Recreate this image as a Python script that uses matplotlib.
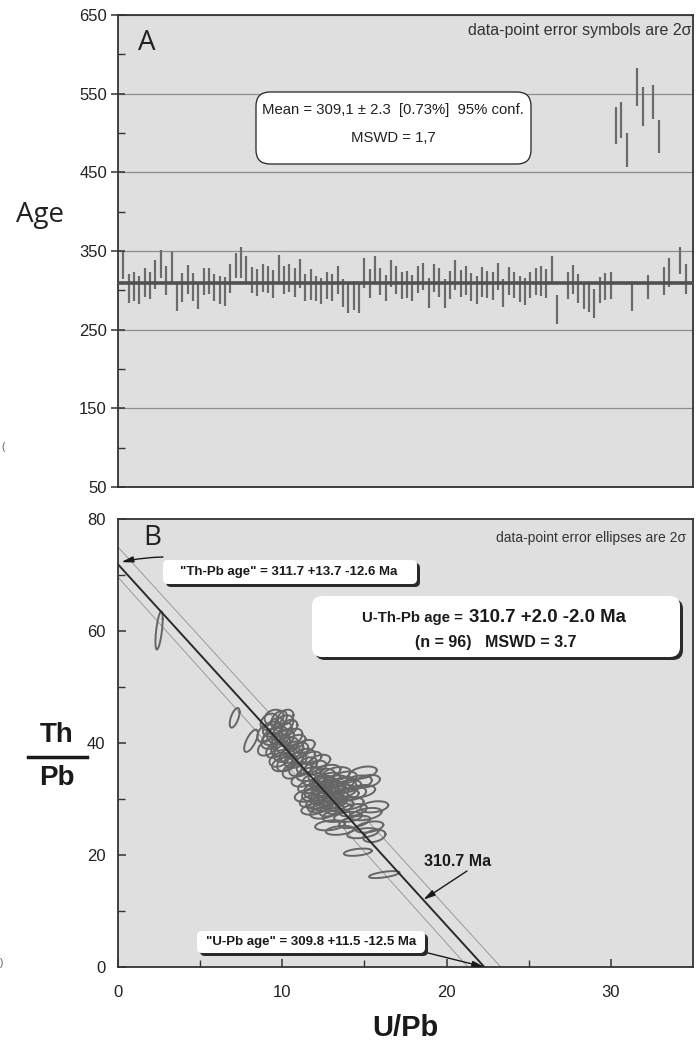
import numpy as np
import matplotlib
matplotlib.use('Agg')
import matplotlib.pyplot as plt
from matplotlib.patches import FancyBboxPatch

plt.rcParams['font.family'] = ['Liberation Sans', 'DejaVu Sans']

# ---- panel A: single analysis ages (Ma) with 2 sigma errors, nan = not shown
nan = np.nan
ages = [332.0, 301.9, 305.3, 300.2, 310.0, 305.9, 320.1, 333.5, 312.5, 328.6,
        292.6, 304.0, 313.8, 304.2, 293.4, 311.4, 311.8, 303.8, 300.2, 298.5,
        314.6, 331.1, 335.3, 326.5, 313.1, 310.0, 315.7, 314.2, 307.8, 326.9,
        312.9, 315.9, 310.0, 321.0, 303.4, 307.2, 302.5, 298.9, 306.4, 303.6,
        312.9, 296.8, 290.3, 293.7, 289.8, 322.5, 308.5, 325.6, 311.0, 303.0,
        321.2, 313.1, 306.4, 307.2, 303.0, 313.6, 317.4, 296.2, 315.4, 310.0,
        296.0, 307.0, 319.5, 308.9, 312.7, 304.6, 300.4, 310.6, 307.4, 305.3,
        317.4, 296.8, 312.0, 306.3, 302.1, 298.3, 306.8, 311.0, 312.3, 308.5,
        326.5, 275.4, nan, 306.4, 313.6, 302.0, 293.6, 289.8, 283.2, 300.0,
        304.7, 306.1, 509.7, 516.6, 478.4, 290.7, 558.7, 533.5, 304.0, 539.2,
        495.4, 311.6, 322.2, nan, 337.9, 314.0]
errs = [17.0, 18.5, 18.5, 18.0, 18.0, 17.0, 18.4, 18.3, 18.5, 19.7,
        18.5, 18.4, 18.5, 17.4, 17.6, 17.4, 17.0, 17.0, 18.0, 18.0,
        18.4, 15.9, 19.3, 17.6, 16.9, 17.2, 17.4, 17.2, 18.0, 18.0,
        18.0, 17.6, 18.0, 18.5, 17.0, 19.5, 16.1, 16.3, 17.4, 17.2,
        18.0, 17.6, 18.7, 18.7, 19.1, 19.0, 18.7, 18.0, 17.0, 16.6,
        17.4, 18.2, 17.4, 17.4, 16.6, 17.4, 17.0, 19.0, 18.0, 18.0,
        18.0, 18.0, 19.0, 16.9, 18.7, 17.8, 17.8, 18.6, 17.6, 17.5,
        17.0, 17.6, 18.0, 16.5, 16.5, 17.0, 17.0, 17.0, 19.0, 18.7,
        17.6, 18.7, nan, 17.4, 18.7, 18.7, 17.4, 17.8, 18.0, 16.6,
        17.0, 17.6, 23.7, 23.3, 21.2, 17.0, 24.4, 24.6, 15.5, 21.8,
        21.2, 17.6, 18.4, nan, 17.6, 19.0]
mean_age = 309.1

# ---- panel B: error ellipses (U/Pb, Th/Pb, 2 sigma half widths, correlation)
ell_x = [9.2, 9.5, 9.8, 10.1, 9.0, 9.4, 9.7, 10.0, 10.4, 10.6,
         9.3, 9.9, 10.3, 10.8, 9.6, 10.1, 10.5, 11.0, 11.3, 9.8,
         10.3, 10.8, 11.5, 11.1, 10.6, 11.8, 12.0, 8.1, 7.1, 2.5,
         12.0, 12.4, 12.8, 13.3, 13.8, 11.7, 12.2, 12.6, 13.0, 13.5,
         14.0, 14.6, 11.5, 12.0, 12.4, 12.9, 13.3, 13.8, 14.3, 12.2,
         12.7, 13.1, 13.6, 14.1, 11.9, 12.5, 13.0, 13.3, 11.3, 12.8,
         14.9, 15.2, 14.8, 12.9, 13.5, 14.4, 15.1, 15.3, 15.6, 14.9,
         14.6, 16.2, 15.6, 14.0, 9.6, 10.2, 9.4, 10.2, 9.9, 10.7,
         10.0, 11.4, 9.1, 12.3, 11.6, 12.1, 12.6, 13.0, 12.4, 13.2,
         12.9, 12.3, 13.7, 11.8, 13.4, 14.3]
ell_y = [43.8, 44.6, 44.2, 43.5, 41.8, 42.5, 41.5, 42.0, 42.8, 41.0,
         40.4, 40.0, 39.6, 40.2, 38.8, 38.2, 37.8, 38.6, 37.6, 37.0,
         36.4, 36.9, 36.0, 35.3, 35.0, 37.3, 35.6, 40.4, 44.5, 60.1,
         33.5, 34.2, 33.6, 34.5, 33.8, 32.2, 32.0, 32.6, 32.0, 32.6,
         32.3, 33.0, 30.6, 30.8, 30.2, 30.8, 30.2, 30.6, 31.0, 29.3,
         29.0, 29.5, 28.8, 29.2, 28.2, 27.6, 28.0, 27.0, 33.4, 35.0,
         34.7, 33.2, 31.4, 25.3, 24.4, 25.9, 27.3, 25.0, 23.4, 23.9,
         20.5, 16.5, 28.6, 26.8, 43.0, 44.6, 41.2, 41.0, 39.0, 38.8,
         36.2, 39.4, 39.2, 36.8, 34.4, 31.2, 31.5, 31.3, 33.0, 33.1,
         30.0, 28.6, 31.4, 29.6, 28.3, 28.0]
ell_sx = [0.52, 0.58, 0.48, 0.58, 0.52, 0.58, 0.62, 0.58, 0.52, 0.62,
          0.58, 0.58, 0.68, 0.62, 0.58, 0.62, 0.68, 0.58, 0.68, 0.58,
          0.62, 0.68, 0.62, 0.68, 0.58, 0.58, 0.68, 0.42, 0.3, 0.22,
          0.74, 0.8, 0.74, 0.85, 0.74, 0.74, 0.85, 0.74, 0.8, 0.85,
          0.8, 0.85, 0.74, 0.8, 0.74, 0.85, 0.74, 0.85, 0.8, 0.74,
          0.8, 0.85, 0.74, 0.85, 0.74, 0.8, 0.74, 0.85, 0.74, 0.74,
          0.85, 0.74, 0.85, 0.9, 0.85, 0.95, 0.95, 0.85, 0.68, 0.95,
          0.85, 0.92, 0.85, 0.85, 0.52, 0.48, 0.58, 0.52, 0.58, 0.58,
          0.62, 0.58, 0.58, 0.62, 0.74, 0.74, 0.8, 0.74, 0.74, 0.8,
          0.74, 0.74, 0.8, 0.74, 0.8, 0.85]
ell_sy = [1.45, 1.35, 1.55, 1.45, 1.65, 1.35, 1.45, 1.65, 1.35, 1.55,
          1.45, 1.35, 1.45, 1.25, 1.45, 1.55, 1.35, 1.45, 1.35, 1.25,
          1.45, 1.35, 1.45, 1.25, 1.35, 1.15, 1.25, 2.0, 1.75, 3.4,
          1.1, 1.2, 1.1, 1.2, 1.1, 1.2, 1.1, 1.3, 1.1, 1.2,
          1.1, 1.2, 1.1, 1.2, 1.1, 1.2, 1.1, 1.1, 1.2, 1.1,
          1.1, 1.2, 1.1, 1.1, 1.0, 1.1, 1.1, 1.1, 1.2, 1.1,
          1.1, 1.1, 1.1, 0.9, 0.8, 1.1, 1.1, 1.0, 1.1, 0.9,
          0.65, 0.62, 1.0, 0.9, 1.45, 1.35, 1.55, 1.45, 1.35, 1.45,
          1.25, 1.15, 1.45, 1.1, 1.2, 1.1, 1.1, 1.1, 1.2, 1.1,
          1.1, 1.0, 1.1, 1.1, 1.0, 1.1]
ell_rho = [0.3, 0.2, 0.4, 0.3, 0.4, 0.3, 0.3, 0.4, 0.3, 0.4,
           0.3, 0.2, 0.3, 0.4, 0.4, 0.3, 0.3, 0.4, 0.3, 0.3,
           0.4, 0.3, 0.4, 0.3, 0.3, 0.3, 0.4, 0.7, 0.6, 0.6,
           0.3, 0.3, 0.4, 0.3, 0.3, 0.3, 0.4, 0.3, 0.3, 0.4,
           0.3, 0.3, 0.3, 0.3, 0.4, 0.3, 0.3, 0.4, 0.3, 0.3,
           0.4, 0.3, 0.3, 0.3, 0.3, 0.3, 0.4, 0.3, 0.3, 0.3,
           0.4, 0.3, 0.3, 0.3, 0.3, 0.5, 0.4, 0.4, 0.3, 0.4,
           0.4, 0.6, 0.3, 0.3, 0.3, 0.3, 0.4, 0.3, 0.3, 0.3,
           0.3, 0.4, 0.4, 0.3, 0.3, 0.3, 0.3, 0.4, 0.3, 0.3,
           0.3, 0.3, 0.3, 0.3, 0.3, 0.4]
# regression line intercepts: Th/Pb axis, U/Pb axis; and its envelope
thpb_int, upb_int = 71.9, 22.3
env_hi = (75.0, 23.3)
env_lo = (69.6, 21.3)

W, H = 697, 1040
fig = plt.figure(figsize=(W / 100, H / 100), dpi=100)
tr = fig.dpi_scale_trans


def px(x, y):
    return (x / 100.0, (H - y) / 100.0)


def box(x0, y0, x1, y1, r, edge=None, shadow=False):
    if shadow:
        s = FancyBboxPatch(px(x0 + 3, y1 + 3), (x1 - x0) / 100, (y1 - y0) / 100,
                           boxstyle='round,pad=0,rounding_size=%f' % (r / 100),
                           transform=tr, fc='#2a2a2a', ec='none', zorder=5)
        fig.add_artist(s)
    b = FancyBboxPatch(px(x0, y1), (x1 - x0) / 100, (y1 - y0) / 100,
                       boxstyle='round,pad=0,rounding_size=%f' % (r / 100),
                       transform=tr, fc='white',
                       ec=edge if edge else 'none', lw=0.9, zorder=6)
    fig.add_artist(b)


def ftext(x, y, s, **kw):
    kw.setdefault('ha', 'center')
    kw.setdefault('va', 'center')
    fig.text(x / W, 1 - y / H, s, zorder=7, **kw)


bg = '#dfdfdf'
spine_c = '#333333'
ink = '#1a1a1a'

# ================= panel A =================
axA = fig.add_axes([118 / W, 1 - 487 / H, 575 / W, 472 / H])
axA.set_facecolor(bg)
idx = np.arange(1, len(ages) + 1)
a = np.array(ages)
e = np.array(errs)
ok = ~np.isnan(a)
axA.vlines(idx[ok], a[ok] - e[ok], a[ok] + e[ok], color='#6b6b6b', lw=1.6, zorder=3)
axA.axhline(mean_age, color='#505050', lw=2.6, zorder=4)
axA.set_xlim(0, 107.4)
axA.set_ylim(50, 650)
axA.set_yticks([50, 150, 250, 350, 450, 550, 650])
axA.set_yticks([100, 200, 300, 400, 500, 600], minor=True)
axA.yaxis.grid(True, which='major', color='#8c8c8c', lw=0.9, zorder=1)
axA.set_axisbelow(True)
axA.set_xticks([])
axA.tick_params(axis='y', which='major', direction='inout', length=10, width=1.1,
                color=spine_c, labelsize=12, pad=3, labelcolor='#222222')
axA.tick_params(axis='y', which='minor', direction='in', length=5, width=1.0, color=spine_c)
for s in axA.spines.values():
    s.set_color(spine_c)
    s.set_linewidth(1.3)

ftext(40, 215, 'Age', fontsize=20, family=['Open Sans', 'DejaVu Sans'], color='#222222')
ftext(138, 43, 'A', fontsize=20, ha='left', family=['Open Sans', 'DejaVu Sans'], color='#222222')
ftext(691, 30, 'data-point error symbols are 2\u03c3', fontsize=11.5, ha='right', color='#333333')
box(256, 92, 531, 164, 14, edge='#222222')
ftext(393, 110, 'Mean = 309,1 \u00b1 2.3  [0.73%]  95% conf.', fontsize=10.7, color='#222222')
ftext(393, 138, 'MSWD = 1,7', fontsize=10.7, color='#222222')

# ================= panel B =================
axB = fig.add_axes([118 / W, 1 - 967 / H, 575 / W, 448 / H])
axB.set_facecolor(bg)
axB.set_xlim(0, 35)
axB.set_ylim(0, 80)

t = np.linspace(0, 2 * np.pi, 80)
for cx, cy, sx, sy, r in zip(ell_x, ell_y, ell_sx, ell_sy, ell_rho):
    xs = cx + sx * np.cos(t)
    ys = cy + sy * (r * np.cos(t) + np.sqrt(1 - r * r) * np.sin(t))
    axB.plot(xs, ys, color='#666666', lw=1.4, zorder=3)

axB.plot([0, env_hi[1]], [env_hi[0], 0], color='#9a9a9a', lw=0.7, zorder=2)
axB.plot([0, env_lo[1]], [env_lo[0], 0], color='#9a9a9a', lw=0.7, zorder=2)
axB.plot([0, upb_int], [thpb_int, 0], color='#2a2a2a', lw=1.4, zorder=4)

axB.set_xticks([0, 10, 20, 30])
axB.set_xticks([5, 15, 25], minor=True)
axB.set_yticks([0, 20, 40, 60, 80])
axB.set_yticks([10, 30, 50, 70], minor=True)
axB.tick_params(axis='x', which='major', direction='in', length=6, width=1.1,
                color=spine_c, labelsize=12, pad=13, labelcolor='#222222')
axB.tick_params(axis='y', which='major', direction='in', length=6, width=1.1,
                color=spine_c, labelsize=12, pad=9, labelcolor='#222222')
axB.tick_params(which='minor', direction='in', length=5, width=1.0, color=spine_c)
for s in axB.spines.values():
    s.set_color(spine_c)
    s.set_linewidth(1.3)

arrow = dict(arrowstyle='-|>,head_length=0.7,head_width=0.18', color=ink,
             lw=1.0, shrinkA=0, shrinkB=0)
axB.annotate('', xy=(0.2, thpb_int + 0.4), xycoords='data', xytext=px(163, 557),
             textcoords=tr, arrowprops=dict(arrow, connectionstyle='arc3,rad=0.05'),
             annotation_clip=False, zorder=5)
axB.annotate('', xy=((thpb_int - 12) / thpb_int * upb_int, 12), xycoords='data',
             xytext=px(467, 871), textcoords=tr, arrowprops=arrow,
             annotation_clip=False, zorder=5)
axB.annotate('', xy=(upb_int, 0), xycoords='data', xytext=px(424, 952),
             textcoords=tr, arrowprops=arrow, annotation_clip=False, zorder=5)

ftext(143, 538, 'B', fontsize=20, ha='left', family=['Open Sans', 'DejaVu Sans'], color='#222222')
ftext(686, 538, 'data-point error ellipses are 2\u03c3', fontsize=10, ha='right', color='#333333')

box(163, 560, 417, 584, 5, shadow=True)
ftext(289, 572, '"Th-Pb age" = 311.7 +13.7 -12.6 Ma', fontsize=9.5, weight='bold', color=ink)

box(312, 596, 680, 657, 10, shadow=True)
ftext(467, 618, 'U-Th-Pb age = ', fontsize=10.8, weight='bold', ha='right', color=ink)
ftext(469, 617, '310.7 +2.0 -2.0 Ma', fontsize=13.4, weight='bold', ha='left', color=ink)
ftext(496, 643, '(n = 96)   MSWD = 3.7', fontsize=11.5, weight='bold', color=ink)

box(197, 931, 425, 953, 5, shadow=True)
ftext(311, 942, '"U-Pb age" = 309.8 +11.5 -12.5 Ma', fontsize=9.5, weight='bold', color=ink)

narrow = ['Liberation Sans Narrow', 'Liberation Sans']
ftext(458, 861, '310.7 Ma', fontsize=11.5, weight='bold', color=ink, family=narrow)

# axis labels of panel B
ftext(405, 1028, 'U/Pb', fontsize=21, weight='bold', family=narrow, color=ink)
ftext(57, 735, 'Th', fontsize=20, weight='bold', family=narrow, color=ink)
ftext(57, 778, 'Pb', fontsize=20, weight='bold', family=narrow, color=ink)
fig.add_artist(plt.Line2D([28 / W, 87 / W], [1 - 757 / H, 1 - 757 / H],
                          transform=fig.transFigure, color=ink, lw=2.5))

# stray glyph fragments at the left margin
ftext(1, 447, '(', fontsize=7, ha='left', color='#555555')
ftext(0, 963, ')', fontsize=7, ha='left', color='#555555')

fig.savefig('out.png', dpi=100)
